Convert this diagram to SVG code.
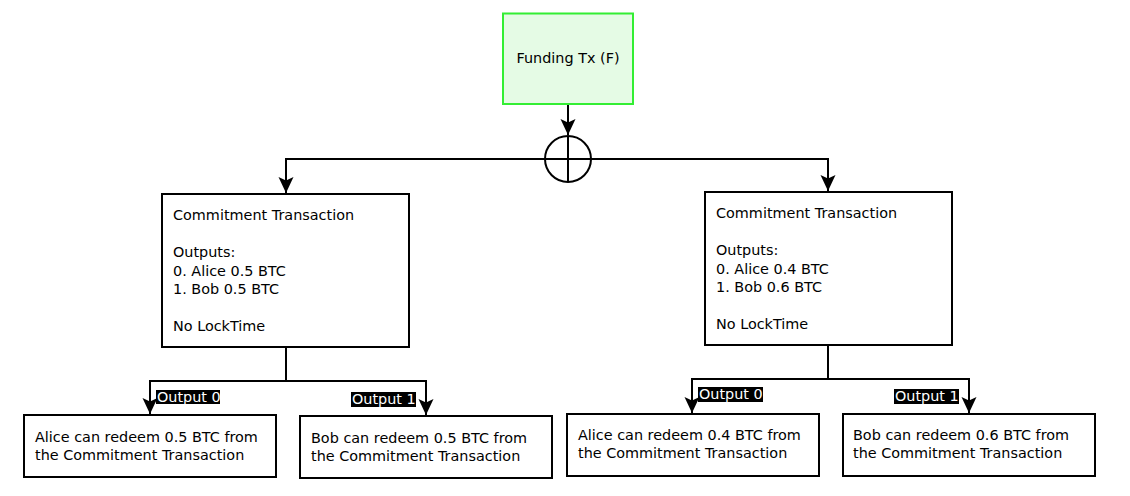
<svg xmlns="http://www.w3.org/2000/svg" width="1130" height="496" viewBox="0 0 1130 496">
<style>
text{font-family:"DejaVu Sans","Liberation Sans",sans-serif;font-size:14.4px;fill:#000}
.box{fill:#fff;stroke:#000;stroke-width:2}
.fund{fill:#e5fbe5;stroke:#33ee33;stroke-width:2}
.ln{fill:none;stroke:#000;stroke-width:2}
.lbl{fill:#000}
.lt{fill:#fff}
</style>
<defs>
<marker id="ah" viewBox="0 0 18 18" markerWidth="18" markerHeight="18" refX="16" refY="9" orient="auto" markerUnits="userSpaceOnUse">
<path d="M0,1.5 L16,9 L0,16.5 L3.5,9 Z" fill="#000"/>
</marker>
</defs>
<rect width="1130" height="496" fill="#fff"/>
<g id="connectors">
<path class="ln" d="M568,104 V135" marker-end="url(#ah)"/>
<circle class="ln" cx="568" cy="159" r="23"/>
<path class="ln" d="M568,136 V182"/>
<path class="ln" d="M286,193 V159 H828 V191" marker-end="url(#ah)"/>
<path class="ln" d="M286,159 V193" marker-end="url(#ah)"/>
<path class="ln" d="M286,348 V381"/>
<path class="ln" d="M286,381 H150 V414" marker-end="url(#ah)"/>
<path class="ln" d="M286,381 H426 V415" marker-end="url(#ah)"/>
<path class="ln" d="M828,346 V379"/>
<path class="ln" d="M828,379 H692 V413" marker-end="url(#ah)"/>
<path class="ln" d="M828,379 H969 V413" marker-end="url(#ah)"/>
<rect class="lbl" x="156" y="390" width="64" height="14"/>
<text class="lt" x="157" y="401.5">Output 0</text>
<rect class="lbl" x="351" y="392" width="65" height="15"/>
<text class="lt" x="352" y="404">Output 1</text>
<rect class="lbl" x="698" y="387" width="65" height="15"/>
<text class="lt" x="699" y="399">Output 0</text>
<rect class="lbl" x="894" y="389" width="65" height="15"/>
<text class="lt" x="895" y="401">Output 1</text>
</g>
<g id="funding">
<rect class="fund" x="503" y="13.5" width="130" height="90.5"/>
<text x="568" y="63" text-anchor="middle">Funding Tx (F)</text>
</g>
<g id="commit-left">
<rect class="box" x="162" y="194" width="247" height="153"/>
<text x="173" y="220">Commitment Transaction</text>
<text x="173" y="257">Outputs:</text>
<text x="173" y="275.5">0. Alice 0.5 BTC</text>
<text x="173" y="294">1. Bob 0.5 BTC</text>
<text x="173" y="330.5">No LockTime</text>
</g>
<g id="commit-right">
<rect class="box" x="705" y="192" width="247" height="153"/>
<text x="716" y="218">Commitment Transaction</text>
<text x="716" y="255">Outputs:</text>
<text x="716" y="273.5">0. Alice 0.4 BTC</text>
<text x="716" y="292">1. Bob 0.6 BTC</text>
<text x="716" y="328.5">No LockTime</text>
</g>
<g id="alice-left">
<rect class="box" x="24" y="415" width="252" height="62"/>
<text x="35" y="442">Alice can redeem 0.5 BTC from</text>
<text x="35" y="460">the Commitment Transaction</text>
</g>
<g id="bob-left">
<rect class="box" x="300" y="416" width="252" height="62"/>
<text x="311" y="443">Bob can redeem 0.5 BTC from</text>
<text x="311" y="461">the Commitment Transaction</text>
</g>
<g id="alice-right">
<rect class="box" x="567" y="414" width="252" height="62"/>
<text x="578" y="440">Alice can redeem 0.4 BTC from</text>
<text x="578" y="458">the Commitment Transaction</text>
</g>
<g id="bob-right">
<rect class="box" x="843" y="414" width="252" height="62"/>
<text x="853" y="440">Bob can redeem 0.6 BTC from</text>
<text x="853" y="458">the Commitment Transaction</text>
</g>
</svg>
